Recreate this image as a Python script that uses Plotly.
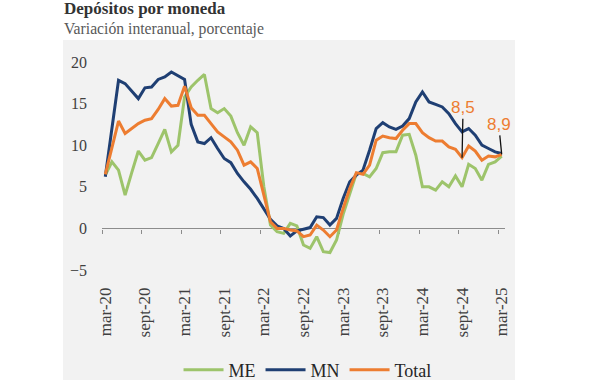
import plotly.graph_objects as go

months = ["mar-20", "abr-20", "may-20", "jun-20", "jul-20", "ago-20", "sept-20", "oct-20", "nov-20", "dic-20",
          "ene-21", "feb-21", "mar-21", "abr-21", "may-21", "jun-21", "jul-21", "ago-21", "sept-21", "oct-21",
          "nov-21", "dic-21", "ene-22", "feb-22", "mar-22", "abr-22", "may-22", "jun-22", "jul-22", "ago-22",
          "sept-22", "oct-22", "nov-22", "dic-22", "ene-23", "feb-23", "mar-23", "abr-23", "may-23", "jun-23",
          "jul-23", "ago-23", "sept-23", "oct-23", "nov-23", "dic-23", "ene-24", "feb-24", "mar-24", "abr-24",
          "may-24", "jun-24", "jul-24", "ago-24", "sept-24", "oct-24", "nov-24", "dic-24", "ene-25", "feb-25",
          "mar-25"]

me = [6.4, 8.0, 7.0, 4.0, 6.7, 9.3, 8.2, 8.5, 10.2, 11.9,
      9.2, 10.0, 15.8, 17.0, 17.8, 18.5, 14.4, 13.9, 14.4, 13.5,
      11.5, 10.0, 12.2, 11.5, 5.0, 0.4, -0.4, -0.6, 0.6, 0.3,
      -2.0, -2.4, -1.0, -2.8, -2.9, -1.4, 1.7, 4.2, 6.6, 6.6,
      6.2, 7.2, 9.1, 9.2, 9.2, 11.2, 11.3, 8.8, 5.0, 5.0,
      4.6, 5.6, 5.0, 6.3, 5.0, 7.7, 7.2, 5.8, 7.7, 8.0,
      8.7]

mn = [6.2, 12.0, 17.8, 17.4, 16.5, 15.6, 16.9, 17.0, 17.9, 18.2,
      18.8, 18.4, 17.9, 12.5, 10.4, 10.2, 10.9, 9.6, 8.4, 7.9,
      6.6, 5.6, 4.7, 3.6, 2.4, 1.1, 0.3, 0.0, -0.9, -0.3,
      -0.1, 0.1, 1.4, 1.3, 0.4, 1.2, 3.6, 5.6, 6.4, 7.0,
      9.4, 12.0, 12.7, 12.2, 11.9, 12.3, 13.2, 15.2, 16.4, 15.2,
      14.9, 14.6, 13.8, 12.6, 11.6, 12.0, 11.2, 10.0, 9.6, 9.2,
      9.0]

total = [6.5, 9.7, 12.9, 11.4, 12.0, 12.6, 13.0, 13.2, 14.3, 15.6,
         14.7, 14.8, 17.1, 14.5, 13.6, 13.6, 12.6, 11.6, 11.0, 10.4,
         9.4, 7.6, 8.0, 7.2, 4.0, 0.8, 0.0, 0.0, -0.2, -0.3,
         -1.0, -0.8, 0.4, -0.2, -1.0, -0.2, 2.4, 4.8, 6.7, 6.5,
         7.6, 10.6, 11.1, 10.9, 10.8, 11.8, 12.6, 12.6, 11.5, 10.9,
         10.5, 10.5, 9.8, 9.5, 8.5, 9.9, 9.3, 8.2, 8.7, 8.6,
         8.9]

tick_labels = ["mar-20", "sept-20", "mar-21", "sept-21", "mar-22", "sept-22",
               "mar-23", "sept-23", "mar-24", "sept-24", "mar-25"]
y_ticks = [-5, 0, 5, 10, 15, 20]

callouts = [("sept-24", "8,5", 1, -50), ("mar-25", "8,9", -3, -30)]

c_me = "#9DC46B"
c_mn = "#1F3F73"
c_total = "#ED7D31"
panel = "#F2F2F2"
serif = "'Liberation Serif', 'Times New Roman', 'DejaVu Serif', serif"
txt = "#404040"

idx = list(range(len(months)))
tick_idx = [months.index(t) for t in tick_labels]

fig = go.Figure()
# invisible carrier trace so that the label axis (x2) is drawn
fig.add_trace(go.Scatter(x=[idx[0], idx[-1]], y=[0, 0], xaxis="x2", mode="lines",
                         line=dict(width=0, color="rgba(0,0,0,0)"),
                         showlegend=False, hoverinfo="skip"))
for name, vals, col in [("ME", me, c_me), ("MN", mn, c_mn), ("Total", total, c_total)]:
    fig.add_trace(go.Scatter(x=idx, y=vals, mode="lines", name=name,
                             line=dict(color=col, width=3)))

# white surroundings of the grey panel (paper is grey)
for x0, x1, y0, y1 in [(-1, 2, 1.106, 2), (-1, -0.0968, -2, 2), (1.0248, 2, -2, 2)]:
    fig.add_shape(type="rect", xref="paper", yref="paper", x0=x0, x1=x1, y0=y0, y1=y1,
                  fillcolor="white", line_width=0, layer="below")

for lab, text, ax, ay in callouts:
    i = months.index(lab)
    fig.add_annotation(x=i, y=total[i], text=text, showarrow=True, arrowhead=0,
                       arrowwidth=1.3, arrowcolor="#111111", ax=ax, ay=ay, standoff=0,
                       font=dict(family="'Liberation Sans', Arial, sans-serif", size=17, color=c_total))

fig.add_annotation(xref="paper", yref="paper", x=-0.1, y=1.255, xanchor="left", yanchor="middle",
                   text="<b>Depósitos por moneda</b>", showarrow=False,
                   font=dict(family=serif, size=17, color="#333333"))
fig.add_annotation(xref="paper", yref="paper", x=-0.1, y=1.16, xanchor="left", yanchor="middle",
                   text="Variación interanual, porcentaje", showarrow=False,
                   font=dict(family=serif, size=15.7, color="#595959"))

fig.update_layout(
    width=600, height=402,
    margin=dict(l=102, r=95, t=62, b=132),
    paper_bgcolor=panel, plot_bgcolor="rgba(0,0,0,0)",
    showlegend=True,
    legend=dict(orientation="h", x=0.51, xanchor="center", y=-0.481, yanchor="middle",
                font=dict(family=serif, size=18, color="#262626"),
                bgcolor="rgba(0,0,0,0)", itemwidth=40, tracegroupgap=0),
    # main x axis: the line at zero with its tick marks
    xaxis=dict(range=[-0.5, 60.5], anchor="free", position=0.2, side="bottom",
               showline=True, linecolor="#8C8C8C", linewidth=1.4,
               ticks="outside", ticklen=4, tickcolor="#8C8C8C", tickwidth=1.4,
               tickmode="array", tickvals=[t - 0.5 for t in tick_idx],
               showticklabels=False, showgrid=False, zeroline=False, layer="below traces"),
    # label axis at the bottom
    xaxis2=dict(range=[-0.5, 60.5], overlaying="x", anchor="y", side="bottom",
                tickmode="array", tickvals=tick_idx, ticktext=tick_labels,
                tickangle=-90, showgrid=False, zeroline=False, showline=False, ticks="",
                ticklabelstandoff=13,
                tickfont=dict(family=serif, size=17, color=txt)),
    yaxis=dict(range=[-5, 20], tickmode="array", tickvals=y_ticks, showgrid=False,
               zeroline=False, showline=False, ticks="", ticklabelstandoff=14,
               tickfont=dict(family=serif, size=16, color=txt)),
)

fig.write_html("out.html", config={"displayModeBar": False},
               post_script="document.body.style.margin='0px';")
